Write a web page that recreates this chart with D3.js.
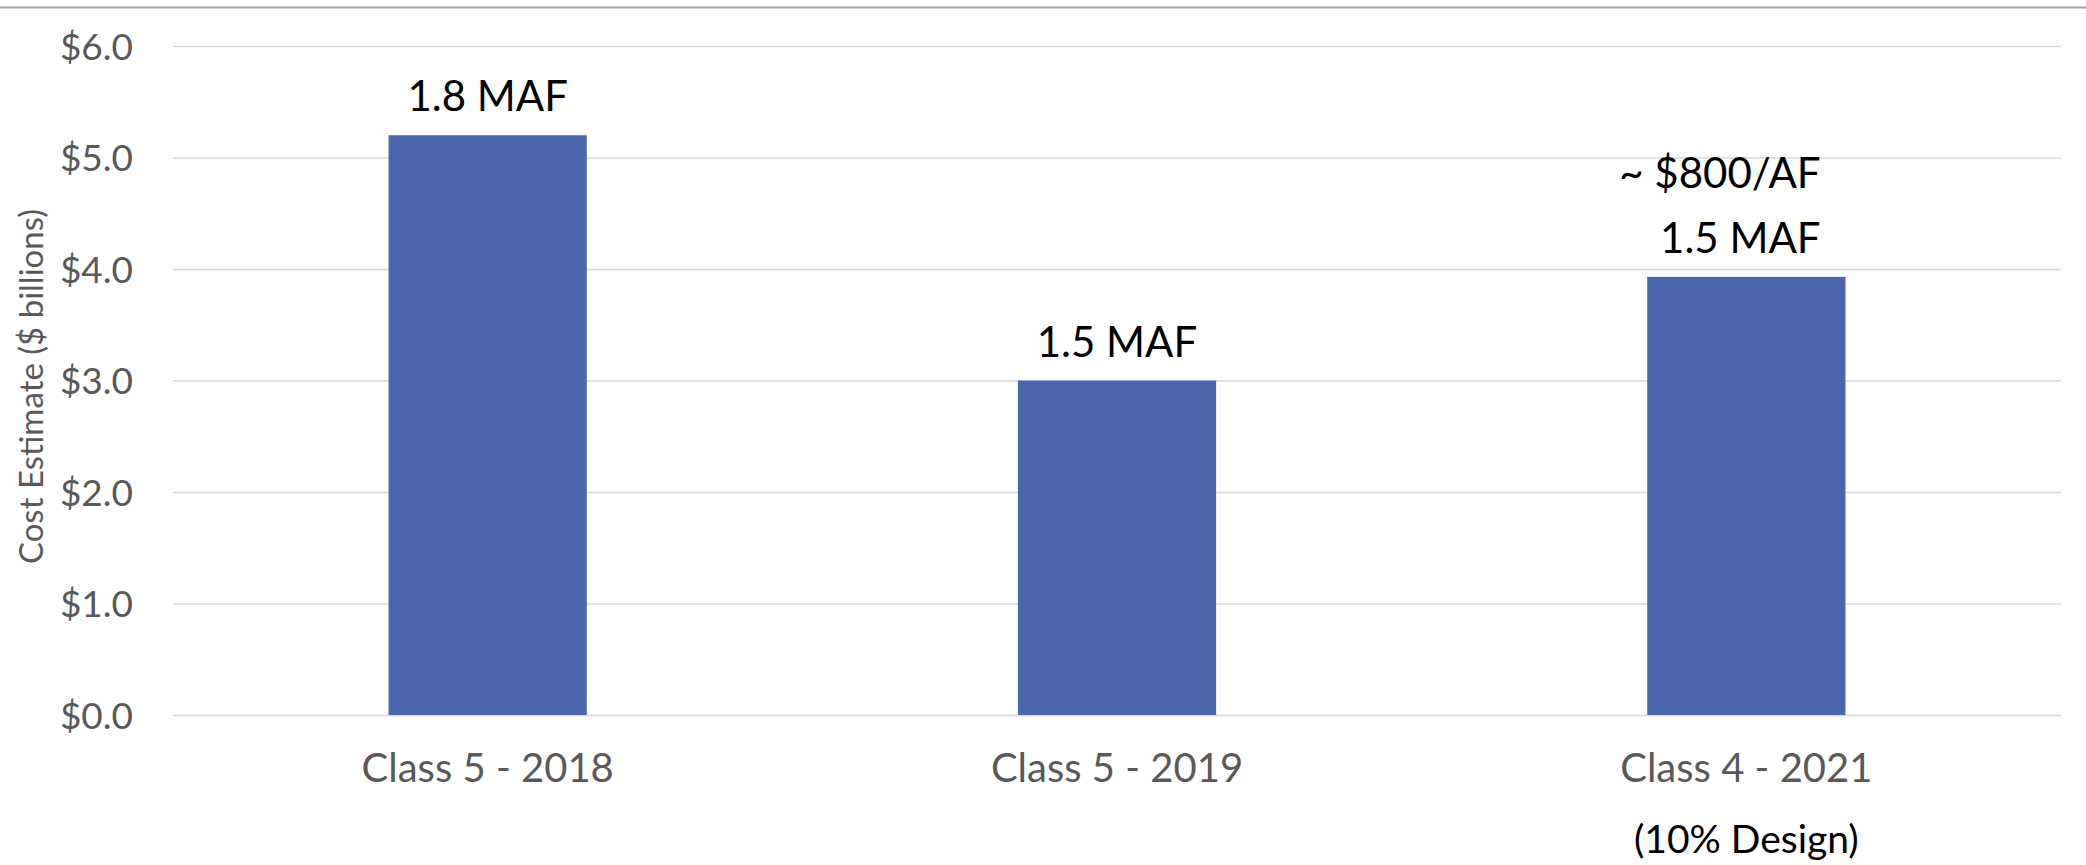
<!DOCTYPE html>
<html>
<head>
<meta charset="utf-8">
<script src="https://cdn.jsdelivr.net/npm/d3@7"></script>
<style>
  html, body { margin: 0; padding: 0; background: #ffffff; }
  svg { display: block; }
  text { font-family: Lato, "Open Sans", sans-serif; }
</style>
</head>
<body>
<svg id="chart" width="2086" height="865"></svg>
<script>
// ---- data ----
const categories = ["Class 5 - 2018", "Class 5 - 2019", "Class 4 - 2021"];
const values = [5.2, 3.0, 3.93];
const barLabels = [["1.8 MAF"], ["1.5 MAF"], ["~ $800/AF", "1.5 MAF"]];
const subLabels = ["", "", "(10% Design)"];
const yTicks = [0, 1, 2, 3, 4, 5, 6];
const yTitle = "Cost Estimate ($ billions)";

// ---- layout ----
const W = 2086, H = 865;
const pLeft = 173, pRight = 2061, pTop = 46, pBottom = 715;
const svg = d3.select("#chart");

const x = d3.scaleBand().domain(categories).range([pLeft, pRight])
  .paddingInner(0.685).paddingOuter(0.3425);
const y = d3.scaleLinear().domain([0, 6]).range([pBottom, pTop]);

// top border line
svg.append("line").attr("x1", 0).attr("x2", W).attr("y1", 7.5).attr("y2", 7.5)
  .attr("stroke", "#a6a6a6").attr("stroke-width", 2);

// y axis with gridlines
const yAxis = svg.append("g").attr("transform", `translate(${pLeft},0)`)
  .call(d3.axisLeft(y).tickValues(yTicks)
    .tickFormat(d => "$" + d.toFixed(1))
    .tickSize(-(pRight - pLeft)).tickPadding(40));
yAxis.select(".domain").remove();
yAxis.selectAll(".tick line").attr("stroke", "#d9d9d9").attr("stroke-width", 1.5);
yAxis.selectAll(".tick text").attr("fill", "#595959")
  .style("font-size", "37px").attr("dy", "0.36em");

// y title
svg.append("text")
  .attr("transform", `translate(30,${(pTop + pBottom) / 2 + 6}) rotate(-90)`)
  .attr("text-anchor", "middle").attr("dominant-baseline", "central")
  .attr("fill", "#595959").style("font-size", "33px")
  .text(yTitle);

// bars
svg.append("g").selectAll("rect").data(categories).join("rect")
  .attr("x", d => x(d))
  .attr("width", x.bandwidth())
  .attr("y", (d, i) => y(values[i]))
  .attr("height", (d, i) => y(0) - y(values[i]))
  .attr("fill", "#4a66ac");

// x axis labels
const xAxis = svg.append("g").attr("transform", `translate(0,${pBottom})`)
  .call(d3.axisBottom(x).tickSize(0).tickPadding(0));
xAxis.select(".domain").remove();
xAxis.selectAll(".tick text").attr("fill", "#595959")
  .style("font-size", "40px").attr("y", 67).attr("dy", 0);

// sub labels under category
svg.append("g").selectAll("text").data(categories).join("text")
  .attr("x", d => x(d) + x.bandwidth() / 2)
  .attr("y", 853)
  .attr("text-anchor", "middle").attr("fill", "#000")
  .style("font-size", "39px")
  .text((d, i) => subLabels[i]);

// bar data labels
const lineH = 65;
categories.forEach((c, i) => {
  const lines = barLabels[i];
  const cx = x(c) + x.bandwidth() / 2 - (lines.length > 1 ? 6 : 0);
  const base = y(values[i]) - 24;
  const g = svg.append("g");
  const last = g.append("text")
    .attr("x", cx).attr("y", base)
    .attr("text-anchor", "middle").attr("fill", "#000")
    .style("font-size", "42px").text(lines[lines.length - 1]);
  const bb = last.node().getBBox();
  const rightEdge = bb.x + bb.width;
  for (let k = lines.length - 2; k >= 0; k--) {
    g.append("text")
      .attr("x", rightEdge).attr("y", base - lineH * (lines.length - 1 - k))
      .attr("text-anchor", "end").attr("fill", "#000")
      .style("font-size", "42px").text(lines[k]);
  }
});
</script>
</body>
</html>
